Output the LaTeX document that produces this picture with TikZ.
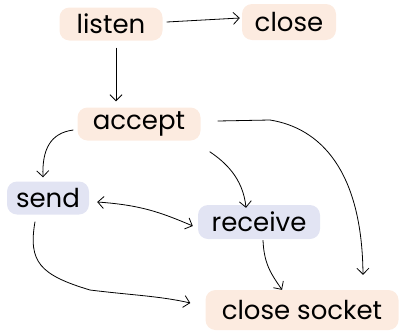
\documentclass[tikz,border=0pt]{standalone}
\usepackage{fontspec}
\setmainfont{Poppins}
\usetikzlibrary{arrows.meta}
\definecolor{peach}{HTML}{FCEBE0}
\definecolor{lav}{HTML}{E2E4F3}
\tikzset{
  box/.style={rounded corners=10pt, inner sep=0pt, font=\fontsize{26}{26}\selectfont, text=black},
  pbox/.style={box, fill=peach},
  lbox/.style={box, fill=lav},
  conn/.style={line width=0.8pt, -{Straight Barb[length=6pt,width=12pt]}},
  dconn/.style={line width=0.8pt, {Straight Barb[length=6pt,width=12pt]}-{Straight Barb[length=6pt,width=12pt]}},
}
\begin{document}
\begin{tikzpicture}[x=1pt,y=-1pt]
\useasboundingbox (0,0) rectangle (399,330);
\node[pbox, minimum width=103pt, minimum height=33pt] (listen) at (111,24) {listen};
\node[pbox, minimum width=94pt, minimum height=36pt] (close) at (289,22) {close};
\node[pbox, minimum width=123pt, minimum height=33pt] (accept) at (139,124) {accept};
\node[lbox, minimum width=82pt, minimum height=33pt] (send) at (48,198) {send};
\node[lbox, minimum width=122pt, minimum height=34pt] (receive) at (259,222) {receive};
\node[pbox, minimum width=193pt, minimum height=40pt] (csock) at (302,310) {close socket};

\draw[conn] ([xshift=4pt,yshift=2pt]listen.east) -- ([xshift=-2pt,yshift=4pt]close.west);
\draw[conn] ([xshift=5pt,yshift=-7pt]listen.south) -- ([xshift=-23pt,yshift=6pt]accept.north);
\draw[conn] ([xshift=-4pt,yshift=-6pt]accept.west) .. controls (50,133) and (42,150) .. ([xshift=-5pt,yshift=4pt]send.north);
\draw[conn] ([xshift=9pt,yshift=-11pt]accept.south east) .. controls (225,162) and (243,178) .. ([xshift=-13pt,yshift=-3pt]receive.north);
\draw[conn] ([xshift=17pt,yshift=3pt]accept.east) -- (270,120) .. controls (320,128) and (362,170) .. ([xshift=61pt,yshift=15pt]csock.north);
\draw[dconn] ([xshift=8pt,yshift=-4pt]send.east) .. controls (140,205) and (160,212) .. ([xshift=-5pt,yshift=-4pt]receive.west);
\draw[conn] ([xshift=-13pt,yshift=-7pt]send.south) .. controls (28,262) and (40,275) .. (90,290) .. controls (130,295) and (160,296) .. ([xshift=-15pt,yshift=7pt]csock.west);
\draw[conn] ([xshift=4pt,yshift=-1pt]receive.south) .. controls (264,265) and (272,275) .. ([xshift=-20pt]csock.north);
\end{tikzpicture}
\end{document}
